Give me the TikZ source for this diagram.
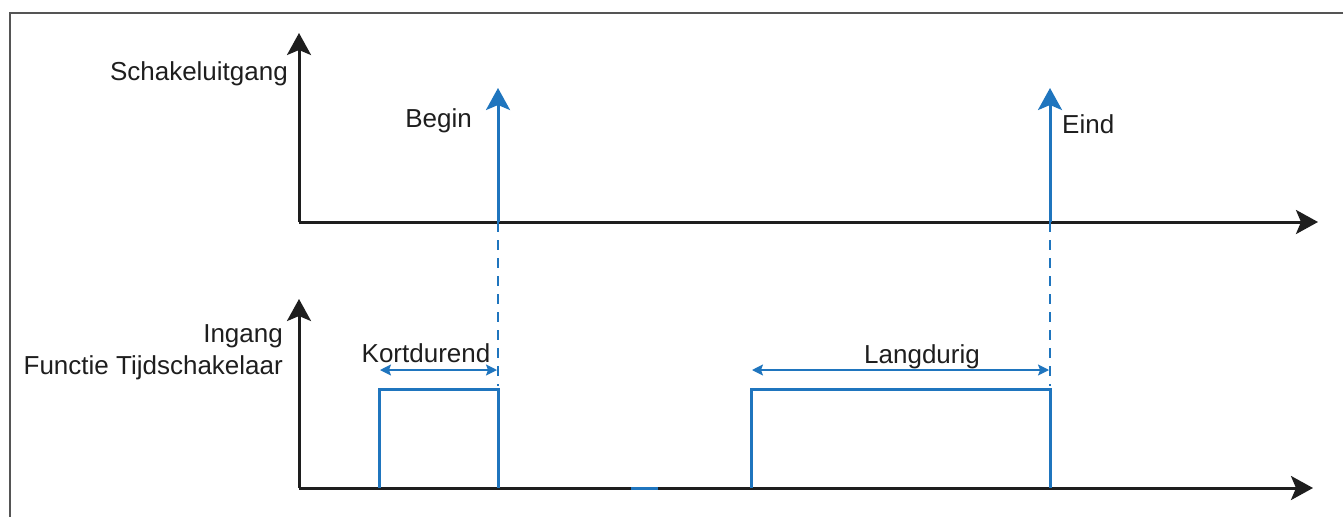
\documentclass[tikz,border=0pt]{standalone}
\usepackage{fontspec}
\setmainfont{Liberation Sans}
\usetikzlibrary{arrows.meta}
\definecolor{sigblue}{RGB}{31,117,190}
\definecolor{ink}{RGB}{30,30,30}
\definecolor{framegray}{RGB}{85,85,85}
\begin{document}
\begin{tikzpicture}[x=1pt,y=-1pt,
  lbl/.style={font=\fontsize{26}{30}\selectfont, text=ink, inner sep=0pt},
  axis/.style={draw=ink, line width=3pt, -{Stealth[length=22pt,width=24pt,inset=5pt]}},
  sig/.style={draw=sigblue, line width=3pt},
  sigarrow/.style={sig, -{Stealth[length=22pt,width=24pt,inset=5pt]}},
  guide/.style={draw=sigblue, line width=1.8pt, dash pattern=on 10pt off 8pt},
  dim/.style={draw=sigblue, line width=1.5pt, {Stealth[length=11pt,width=11pt,inset=2pt]}-{Stealth[length=11pt,width=11pt,inset=2pt]}},
  frameline/.style={draw=framegray, line width=2pt}]
\useasboundingbox (0,0) rectangle (1344,517);
% frame
\coordinate (fr) at (1343,13);
\coordinate (ftl) at (10,13);
\coordinate (fbl) at (10,517);
\draw[frameline] (fr) -- (ftl) -- (fbl);
% top axes
\coordinate (o1) at (299,222);
\coordinate (y1) at (299,33);
\coordinate (x1) at (1318,222);
\draw[axis] (o1) -- (y1);
\draw[axis] (o1) -- (x1);
% bottom axes
\coordinate (o2) at (299,488);
\coordinate (y2) at (299,299);
\coordinate (x2) at (1313,488);
\draw[axis] (o2) -- (y2);
\draw[axis] (o2) -- (x2);
% output pulses
\coordinate (b0) at (498,222);
\coordinate (b1) at (498,88);
\coordinate (e0) at (1050,222);
\coordinate (e1) at (1050,88);
\draw[sigarrow] (b0) -- (b1);
\draw[sigarrow] (e0) -- (e1);
% guides
\coordinate (bg) at (498,386);
\coordinate (eg) at (1050,386);
\draw[guide] (b0) -- (bg);
\draw[guide] (e0) -- (eg);
% input pulses
\coordinate (k0) at (379,488);
\coordinate (k1) at (379,389);
\coordinate (k2) at (498,389);
\coordinate (k3) at (498,488);
\draw[sig, line join=miter] (k0) -- (k1) -- (k2) -- (k3);
\coordinate (l0) at (751,488);
\coordinate (l1) at (751,389);
\coordinate (l2) at (1050,389);
\coordinate (l3) at (1050,488);
\draw[sig, line join=miter] (l0) -- (l1) -- (l2) -- (l3);
\coordinate (s0) at (631,488);
\coordinate (s1) at (658,488);
\draw[sig] (s0) -- (s1);
% dimension arrows
\coordinate (kd0) at (380,370);
\coordinate (kd1) at (497,370);
\draw[dim] (kd0) -- (kd1);
\coordinate (ld0) at (752,370);
\coordinate (ld1) at (1049,370);
\draw[dim] (ld0) -- (ld1);
% labels
\node[lbl, anchor=base east] (tout) at (288,80) {Schakeluitgang};
\node[lbl, anchor=base east] (tbegin) at (472,127) {Begin};
\node[lbl, anchor=base west] (teind) at (1062,133) {Eind};
\node[lbl, anchor=base east] (tin1) at (283,342) {Ingang};
\node[lbl, anchor=base east] (tin2) at (283,374) {Functie Tijdschakelaar};
\node[lbl, anchor=base] (tkort) at (426,362) {Kortdurend};
\node[lbl, anchor=base] (tlang) at (922,363) {Langdurig};
\end{tikzpicture}
\end{document}
